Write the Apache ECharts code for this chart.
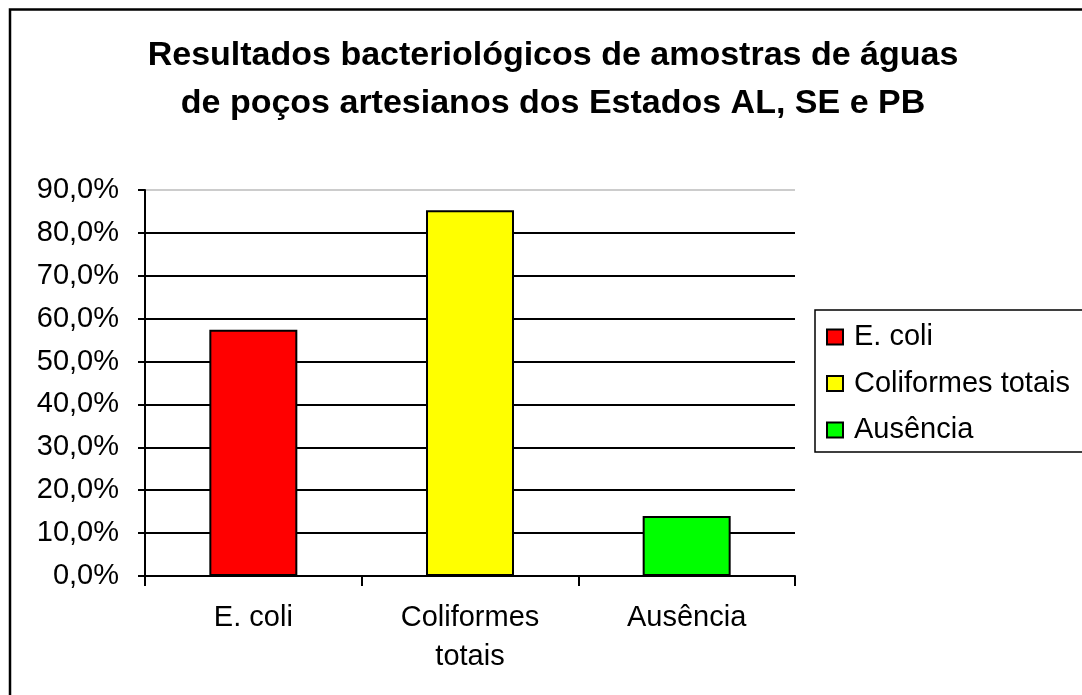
<!DOCTYPE html>
<html>
<head>
<meta charset="utf-8">
<script src="https://cdn.jsdelivr.net/npm/echarts@6/dist/echarts.min.js"></script>
<style>
html,body{margin:0;padding:0;background:#fff;}
#c{width:1082px;height:695px;}
</style>
</head>
<body>
<div id="c"></div>
<script>
const titleText = 'Resultados bacteriológicos de amostras de águas\nde poços artesianos dos Estados AL, SE e PB';
const categories = ['E. coli', 'Coliformes\ntotais', 'Ausência'];
const seriesNames = ['E. coli', 'Coliformes totais', 'Ausência'];
const seriesValues = [57.4, 85.3, 14.0];
const seriesColors = ['#FF0000', '#FFFF00', '#00FF00'];
const yTicks = [0, 10, 20, 30, 40, 50, 60, 70, 80, 90];

const FONT = '"Liberation Sans", Arial, sans-serif';
const chart = echarts.init(document.getElementById('c'), null, {renderer: 'canvas'});

const series = seriesNames.map((name, i) => ({
  name: name,
  type: 'bar',
  barWidth: 88,
  barGap: '-100%',
  data: categories.map((c, j) => (j === i ? seriesValues[i] : '-')),
  itemStyle: {color: seriesColors[i], borderColor: '#000', borderWidth: 2},
  silent: true
}));

const gridColors = yTicks.map((t, i) => (i === yTicks.length - 1 ? '#cccccc' : '#000000'));

chart.setOption({
  animation: false,
  backgroundColor: '#fff',
  title: {
    text: titleText,
    left: 553,
    top: 32,
    textAlign: 'center',
    padding: 0,
    textStyle: {fontFamily: FONT, fontWeight: 'bold', fontSize: 34, lineHeight: 48, color: '#000'}
  },
  legend: {
    orient: 'vertical',
    left: 815,
    top: 310,
    padding: [12, 40, 7, 11],
    itemGap: 16.5,
    itemWidth: 16,
    itemHeight: 15,
    icon: 'rect',
    borderColor: '#000',
    borderWidth: 1.5,
    borderRadius: 0,
    data: seriesNames,
    textStyle: {fontFamily: FONT, fontSize: 29, color: '#000', lineHeight: 30, padding: [0, 0, 0, 6]}
  },
  grid: {left: 145, right: 287, top: 190, bottom: 119, containLabel: false},
  xAxis: {
    type: 'category',
    data: categories,
    boundaryGap: true,
    axisLine: {lineStyle: {color: '#000', width: 2}},
    axisTick: {show: true, length: 10, lineStyle: {color: '#000', width: 2}},
    axisLabel: {fontFamily: FONT, fontSize: 29, color: '#000', lineHeight: 39, margin: 22, interval: 0}
  },
  yAxis: {
    type: 'value',
    min: 0,
    max: 90,
    interval: 10,
    axisLine: {show: true, lineStyle: {color: '#000', width: 2}},
    axisTick: {show: true, length: 7, lineStyle: {color: '#000', width: 2}},
    axisLabel: {fontFamily: FONT, fontSize: 29, color: '#000', margin: 26,
      formatter: v => v.toFixed(1).replace('.', ',') + '%'},
    splitLine: {show: true, lineStyle: {color: gridColors, width: 2}}
  },
  graphic: [{
    type: 'rect',
    shape: {x: 10, y: 9.5, width: 1200, height: 800},
    style: {fill: 'none', stroke: '#000', lineWidth: 2.5},
    silent: true,
    z: 100
  }],
  series: series
});
</script>
</body>
</html>
